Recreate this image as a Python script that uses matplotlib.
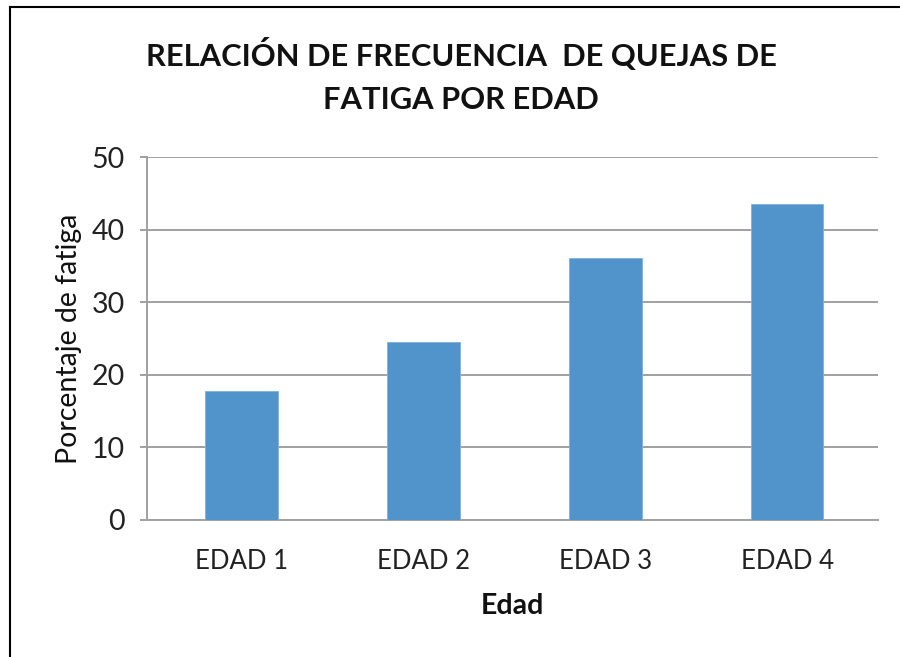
import matplotlib
matplotlib.use("Agg")
import matplotlib.pyplot as plt
from matplotlib.lines import Line2D

# ---- data ----
categories = ["EDAD 1", "EDAD 2", "EDAD 3", "EDAD 4"]
fatiga = [17.7, 24.5, 36.1, 43.5]
yticks = [0, 10, 20, 30, 40, 50]

plt.rcParams["font.family"] = ["Lato", "DejaVu Sans"]

fig = plt.figure(figsize=(9, 6.57), dpi=100)
ax = fig.add_axes([147 / 900, 1 - 520 / 657, 731 / 900, 363 / 657])

x = range(len(categories))
ax.bar(x, fatiga, width=0.4, color="#5193CB", edgecolor="#7FB0DD", linewidth=0.6, zorder=3)

ax.set_xlim(-0.52, len(categories) - 0.5)
ax.set_ylim(0, 50)
ax.set_yticks(yticks)
ax.set_xticks(list(x))
ax.set_xticklabels(categories)

ax.grid(axis="y", color="#A0A0A0", linewidth=1.4, zorder=0)
for side in ["top", "right"]:
    ax.spines[side].set_visible(False)
for side in ["left", "bottom"]:
    ax.spines[side].set_color("#A0A0A0")
    ax.spines[side].set_linewidth(1.4)

ax.tick_params(axis="y", length=5, width=1.4, color="#A0A0A0", labelsize=20.5, pad=11, labelcolor="#222222")
ax.tick_params(axis="x", length=0, labelsize=18.5, pad=21, labelcolor="#222222")

ax.set_ylabel("Porcentaje de fatiga", fontsize=20.5, color="#111111", va="center")
ax.yaxis.set_label_coords((69 - 147) / 731, 0.5)
ax.set_xlabel("Edad", fontsize=20.5, fontweight="bold", color="#111111", va="center")
ax.xaxis.set_label_coords(0.5, (520 - 606) / 363)

fig.text(461 / 900, 1 - 55 / 657, "RELACIÓN DE FRECUENCIA  DE QUEJAS DE", ha="center", va="center",
         fontsize=22.2, fontweight="bold", color="#111111")
fig.text(461 / 900, 1 - 100 / 657, "FATIGA POR EDAD", ha="center", va="center",
         fontsize=22.2, fontweight="bold", color="#111111")

# chart frame (left and top edges visible)
fig.add_artist(Line2D([10 / 900, 10 / 900], [0, 1 - 7 / 657], transform=fig.transFigure, color="black", linewidth=1.5))
fig.add_artist(Line2D([10 / 900, 1], [1 - 7 / 657, 1 - 7 / 657], transform=fig.transFigure, color="black", linewidth=1.5))

fig.savefig("out.png", dpi=100, facecolor="white")
